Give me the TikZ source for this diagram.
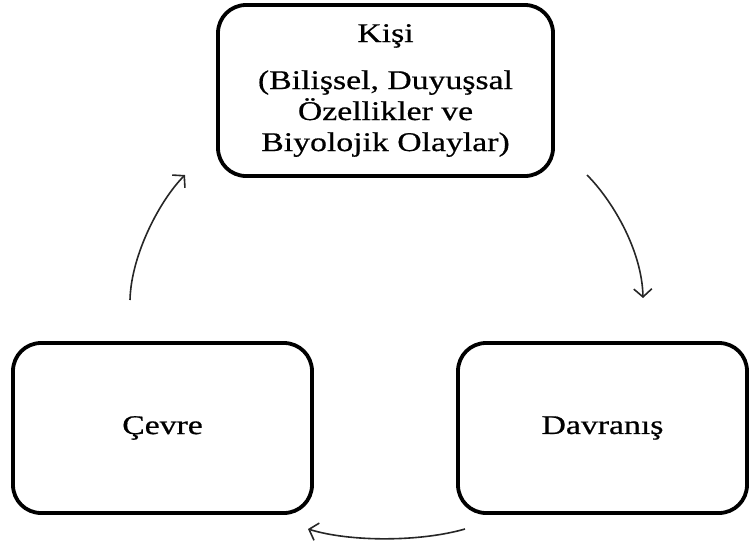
\documentclass[tikz,border=0pt]{standalone}
\usepackage{fontspec}
\setmainfont{Liberation Serif}[FakeStretch=1.25,FakeBold=0.6]
\usetikzlibrary{arrows.meta}
\begin{document}
\begin{tikzpicture}[x=1pt,y=-1pt,
  box/.style={draw=black,line width=3.8pt,rounded corners=28pt,align=center,
    font=\fontsize{27}{31}\selectfont,inner sep=0pt},
  conn/.style={line width=1.6pt,draw=black!85,
    -{Straight Barb[length=8pt,width=18pt,line width=1.6pt]}}]
\useasboundingbox (0,0) rectangle (750,544);
\node[box,minimum width=335pt,minimum height=171pt] (kisi) at (385.5,90.5)
  {Kişi\\[16pt](Bilişsel, Duyuşsal\\Özellikler ve\\Biyolojik Olaylar)};
\node[box,minimum width=299pt,minimum height=170pt] (cevre) at (162.5,428) {Çevre};
\node[box,minimum width=289pt,minimum height=170pt] (davranis) at (602.5,428) {Davranış};
\coordinate (a1s) at (130,300);
\coordinate (a1e) at (185,175);
\coordinate (a2s) at (587,175);
\coordinate (a2e) at (643,298);
\coordinate (a3s) at (465,529);
\coordinate (a3e) at (308,529);
\draw[conn] (a1s) .. controls (131,255) and (160,200) .. (a1e);
\draw[conn] (a2s) .. controls (612,200) and (642,250) .. (a2e);
\draw[conn] (a3s) .. controls (420,542) and (350,542) .. (a3e);
\end{tikzpicture}
\end{document}
